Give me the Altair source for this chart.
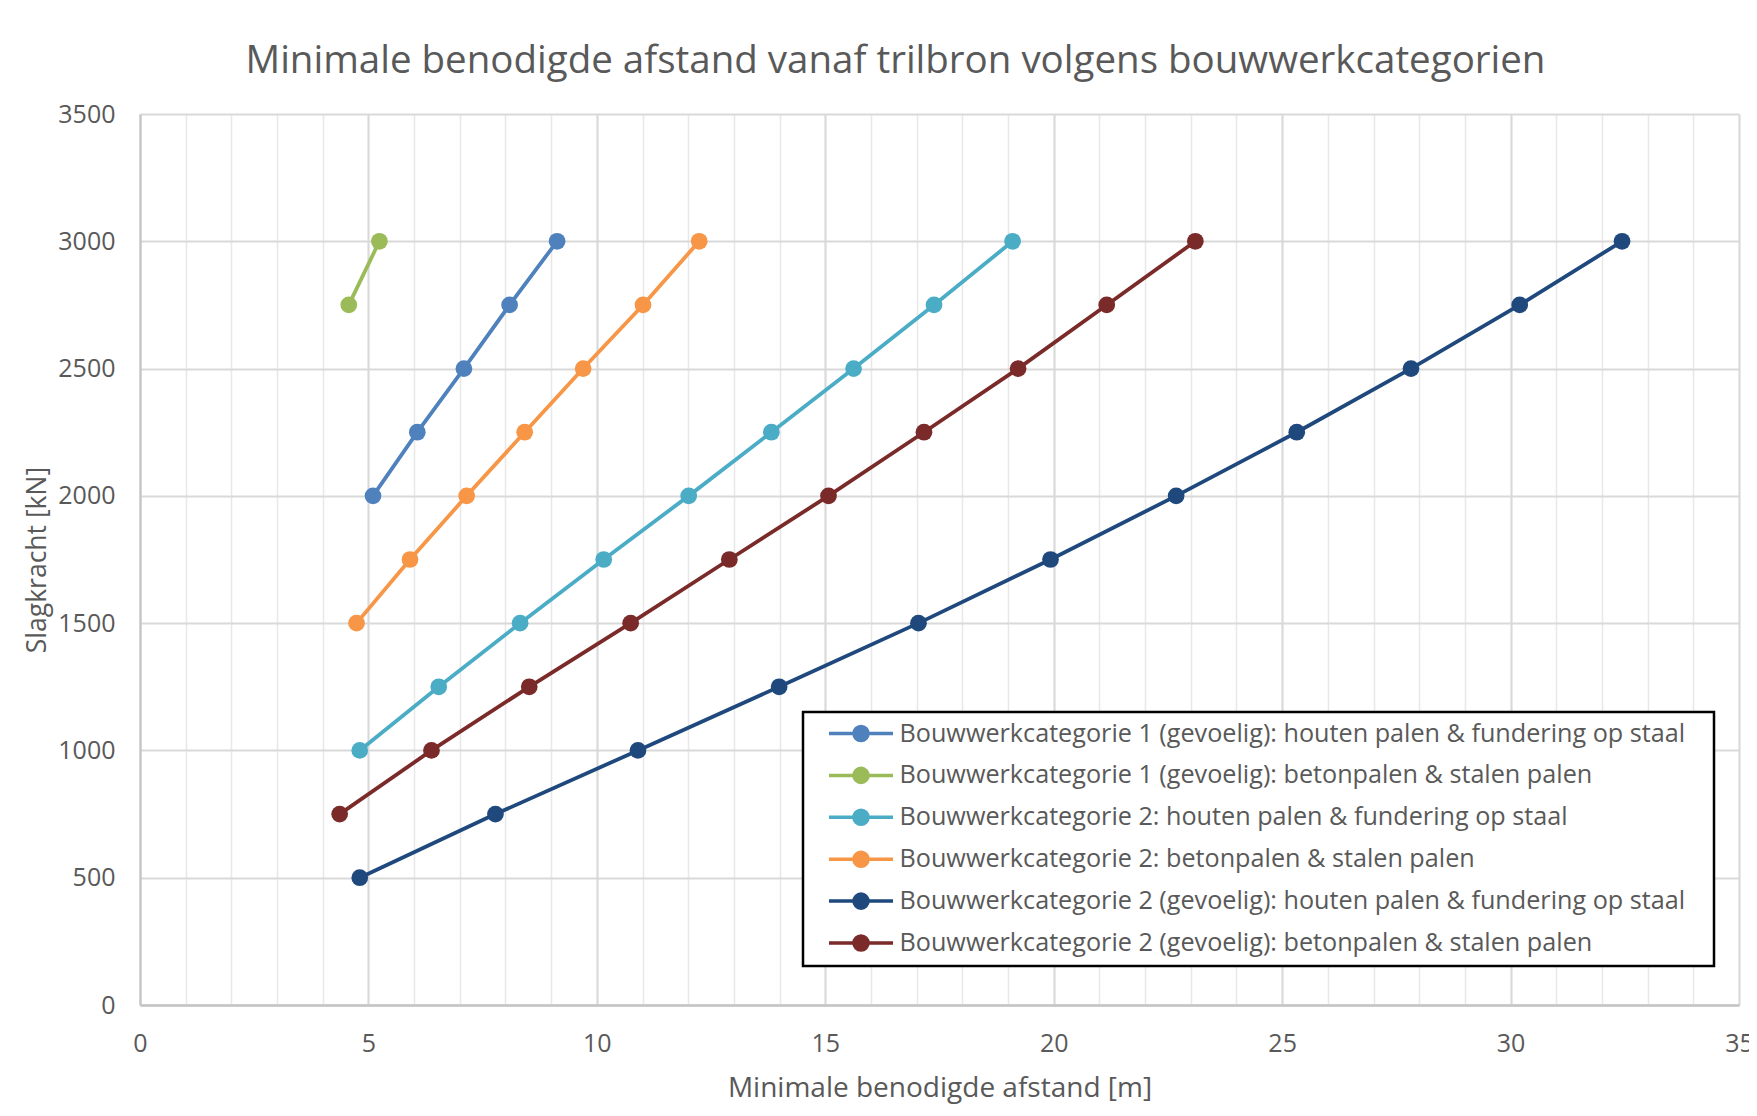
import altair as alt
import pandas as pd

TITLE = "Minimale benodigde afstand vanaf trilbron volgens bouwwerkcategorien"
X_TITLE = "Minimale benodigde afstand [m]"
Y_TITLE = "Slagkracht [kN]"

series_names = [
    "Bouwwerkcategorie 1 (gevoelig): houten palen & fundering op staal",
    "Bouwwerkcategorie 1 (gevoelig): betonpalen & stalen palen",
    "Bouwwerkcategorie 2: houten palen & fundering op staal",
    "Bouwwerkcategorie 2: betonpalen & stalen palen",
    "Bouwwerkcategorie 2 (gevoelig): houten palen & fundering op staal",
    "Bouwwerkcategorie 2 (gevoelig): betonpalen & stalen palen",
]
series_colors = ["#4F81BD", "#9BBB59", "#4BACC6", "#F79646", "#1F497D", "#7A2A28"]

# Slagkracht [kN] per series
kracht_s1 = [2000, 2250, 2500, 2750, 3000]
kracht_s2 = [2750, 3000]
kracht_s3 = [1000, 1250, 1500, 1750, 2000, 2250, 2500, 2750, 3000]
kracht_s4 = [1500, 1750, 2000, 2250, 2500, 2750, 3000]
kracht_s5 = [500, 750, 1000, 1250, 1500, 1750, 2000, 2250, 2500, 2750, 3000]
kracht_s6 = [750, 1000, 1250, 1500, 1750, 2000, 2250, 2500, 2750, 3000]

# Minimale benodigde afstand [m] per series
afstand_s1 = [5.10, 6.07, 7.09, 8.09, 9.13]
afstand_s2 = [4.57, 5.24]
afstand_s3 = [4.81, 6.54, 8.32, 10.15, 12.01, 13.82, 15.62, 17.38, 19.10]
afstand_s4 = [4.74, 5.91, 7.15, 8.42, 9.70, 11.01, 12.24]
afstand_s5 = [4.81, 7.78, 10.90, 13.99, 17.04, 19.93, 22.68, 25.32, 27.82, 30.20, 32.44]
afstand_s6 = [4.37, 6.38, 8.52, 10.74, 12.90, 15.07, 17.16, 19.22, 21.16, 23.10]

x_ticks = list(range(0, 36, 5))
x_minor = list(range(0, 36, 1))
y_ticks = list(range(0, 3501, 500))

krachten = [kracht_s1, kracht_s2, kracht_s3, kracht_s4, kracht_s5, kracht_s6]
afstanden = [afstand_s1, afstand_s2, afstand_s3, afstand_s4, afstand_s5, afstand_s6]

rows = []
for name, ks, afs in zip(series_names, krachten, afstanden):
    for k, a in zip(ks, afs):
        rows.append({"serie": name, "kracht": k, "afstand": a})
df = pd.DataFrame(rows)

FONT = "Open Sans"
TEXT = "#595959"

x_scale = alt.Scale(domain=[0, 35], nice=False, zero=False)
y_scale = alt.Scale(domain=[0, 3500], nice=False)

x_major = alt.Axis(
    values=x_ticks, orient="bottom", grid=True, gridColor="#d9d9d9", gridWidth=2,
    domain=True, domainColor="#c4c4c4", domainWidth=2.5, ticks=False, format="d",
    labelPadding=26, labelFontSize=25, labelFont=FONT, labelColor=TEXT,
    labelBaseline="top", labelAlign="center", labelFlush=False, labelOverlap=False,
    title=X_TITLE, titleFontSize=28, titleFont=FONT, titleFontWeight="normal",
    titleColor=TEXT, titleX=799.5, titleY=91, titleBaseline="alphabetic",
    titleAlign="center",
)
x_minor_axis = alt.Axis(
    values=x_minor, orient="bottom", grid=True, gridColor="#e8e8e8", gridWidth=1.5,
    domain=False, ticks=False, labels=False, title=None,
)
y_major = alt.Axis(
    values=y_ticks, orient="left", grid=True, gridColor="#d9d9d9", gridWidth=2,
    domain=True, domainColor="#c4c4c4", domainWidth=2, ticks=False, format="d",
    labelPadding=25, labelFontSize=25, labelFont=FONT, labelColor=TEXT,
    labelBaseline="middle", labelAlign="right", labelFlush=False, labelOverlap=False,
    title=Y_TITLE, titleFontSize=26.5, titleFont=FONT, titleFontWeight="normal",
    titleColor=TEXT, titleX=-95, titleY=445.5, titleAngle=-90,
    titleBaseline="alphabetic", titleAlign="center",
)

# legend symbol: a line with a dot made of concentric rings (works stroke-only)
rings = [0.22, 0.17, 0.12, 0.07, 0.03]
sym_path = "M-1,0L1,0"
for r in rings:
    sym_path += f"M{r},0A{r},{r},0,1,1,-{r},0A{r},{r},0,1,1,{r},0"

legend = alt.Legend(
    title=None, orient="none", legendX=663, legendY=598,
    symbolType=sym_path, symbolSize=4096, symbolStrokeWidth=3.5, symbolOpacity=1,
    symbolOffset=15, labelOffset=4.5,
    labelFont=FONT, labelFontSize=25.2, labelColor=TEXT, labelLimit=0,
    labelExpr="datum.label + '\u00a0\u00a0\u00a0\u200b'",
)

color = alt.Color("serie:N", scale=alt.Scale(domain=series_names, range=series_colors),
                  sort=series_names, legend=legend)

minor = alt.Chart(df).mark_point(opacity=0).encode(
    x=alt.X("afstand:Q", scale=x_scale, axis=x_minor_axis),
    y=alt.Y("kracht:Q", scale=y_scale, axis=y_major),
)

lines = alt.Chart(df).mark_line(
    strokeWidth=3.8,
    point=alt.OverlayMarkDef(filled=True, size=280, opacity=1),
).encode(
    x=alt.X("afstand:Q", scale=x_scale, axis=x_major),
    y=alt.Y("kracht:Q", scale=y_scale, axis=y_major),
    color=color,
    order=alt.Order("kracht:Q"),
    detail="serie:N",
)

chart = alt.layer(minor, lines).resolve_axis(x="independent").properties(
    width=1599, height=891,
    autosize=alt.AutoSizeParams(type="none"),
    padding={"left": 132, "top": 106, "right": 10, "bottom": 100},
    background="#ffffff",
    title=alt.TitleParams(
        TITLE, font=FONT, fontSize=38.5, fontWeight="normal", color=TEXT,
        anchor="middle", frame="group", dx=-44, offset=21, baseline="top",
    ),
).configure_view(strokeWidth=0).configure_legend(
    strokeColor="#000000", strokeWidth=2.5, fillColor="#ffffff", padding=9,
    cornerRadius=0, clipHeight=25, rowPadding=15.9,
)

chart.save("out.html", embed_options={"renderer": "svg", "actions": False})
